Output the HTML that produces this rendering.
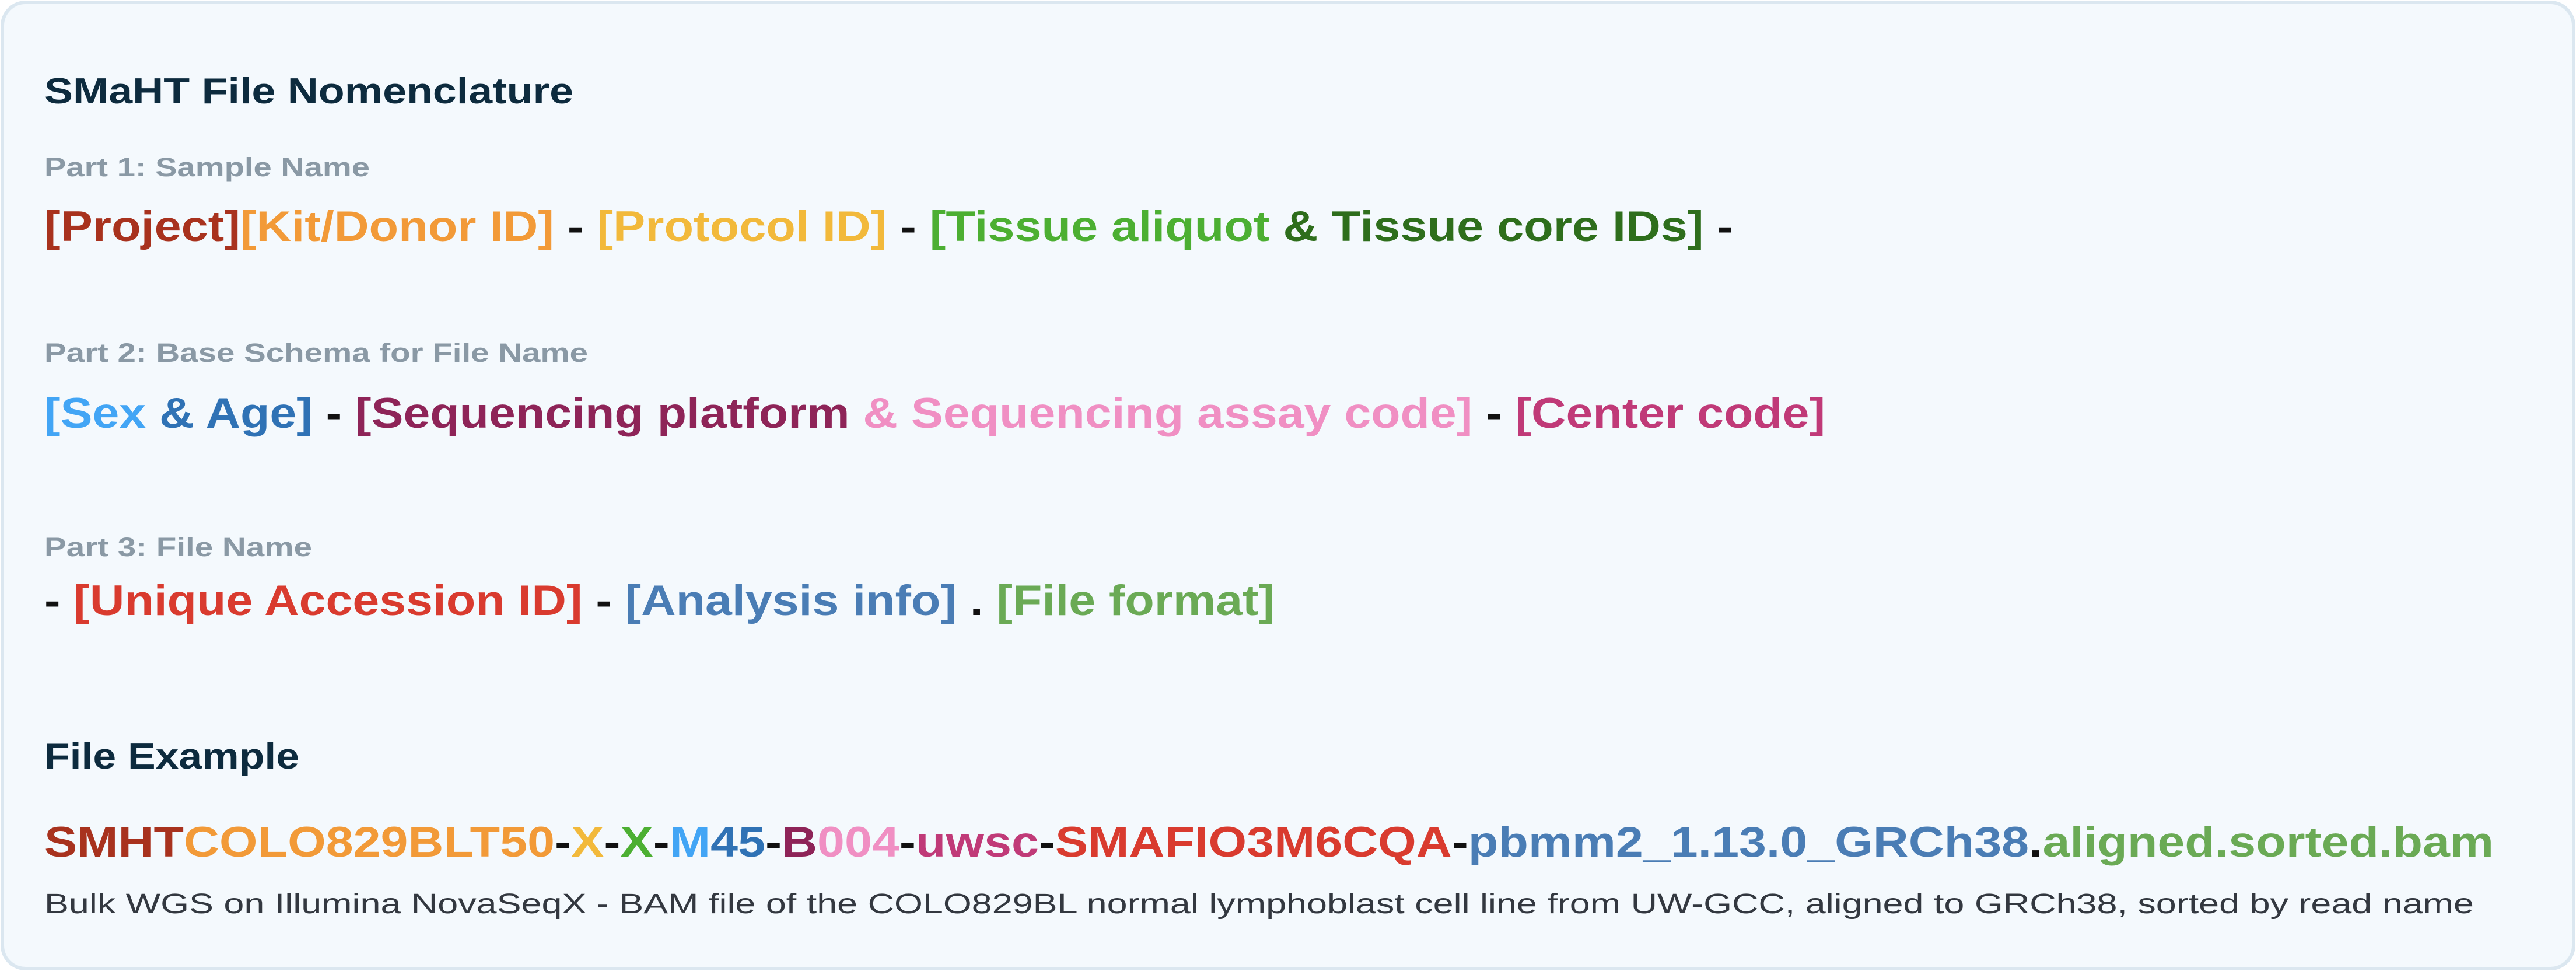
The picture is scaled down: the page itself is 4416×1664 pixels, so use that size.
<!DOCTYPE html>
<html><head><meta charset="utf-8"><style>
html,body{margin:0;padding:0;background:#fff;}
svg{display:block;}
text{font-family:"Liberation Sans",sans-serif;font-weight:bold;}
</style></head><body>
<svg width="4416" height="1664" viewBox="0 0 4416 1664" xmlns="http://www.w3.org/2000/svg">
<rect x="4" y="4" width="4408" height="1656" rx="40" ry="40" fill="#f4f9fd" stroke="#dbe7f0" stroke-width="6"/>
<text x="76" y="177" font-size="62" fill="#0d2b3e" textLength="907" lengthAdjust="spacingAndGlyphs">SMaHT File Nomenclature</text>
<text x="76" y="302" font-size="45" fill="#8a99a5" textLength="558" lengthAdjust="spacingAndGlyphs">Part 1: Sample Name</text>
<text x="76" y="413" font-size="73" textLength="2895" lengthAdjust="spacingAndGlyphs"><tspan fill="#a8321e">[Project]</tspan><tspan fill="#f29a38">[Kit/Donor ID]</tspan><tspan fill="#111"> - </tspan><tspan fill="#f2b93b">[Protocol ID]</tspan><tspan fill="#111"> - </tspan><tspan fill="#4caf32">[Tissue aliquot </tspan><tspan fill="#2e6e1c">&amp; Tissue core IDs]</tspan><tspan fill="#111"> -</tspan></text>
<text x="76" y="620" font-size="45" fill="#8a99a5" textLength="932" lengthAdjust="spacingAndGlyphs">Part 2: Base Schema for File Name</text>
<text x="76" y="733" font-size="73" textLength="3053" lengthAdjust="spacingAndGlyphs"><tspan fill="#42a5f5">[Sex </tspan><tspan fill="#2f72b5">&amp; Age]</tspan><tspan fill="#111"> - </tspan><tspan fill="#8e2458">[Sequencing platform </tspan><tspan fill="#f08fc3">&amp; Sequencing assay code]</tspan><tspan fill="#111"> - </tspan><tspan fill="#c03a78">[Center code]</tspan></text>
<text x="76" y="953" font-size="45" fill="#8a99a5" textLength="459" lengthAdjust="spacingAndGlyphs">Part 3: File Name</text>
<text x="76" y="1054" font-size="73" textLength="2109" lengthAdjust="spacingAndGlyphs"><tspan fill="#111">- </tspan><tspan fill="#d93b2f">[Unique Accession ID]</tspan><tspan fill="#111"> - </tspan><tspan fill="#4a7db5">[Analysis info]</tspan><tspan fill="#111"> . </tspan><tspan fill="#6aaa55">[File format]</tspan></text>
<text x="76" y="1317" font-size="62" fill="#0d2b3e" textLength="437" lengthAdjust="spacingAndGlyphs">File Example</text>
<text x="76" y="1468" font-size="73" textLength="4199" lengthAdjust="spacingAndGlyphs"><tspan fill="#a8321e">SMHT</tspan><tspan fill="#f29a38">COLO829BLT50</tspan><tspan fill="#111">-</tspan><tspan fill="#f2b93b">X</tspan><tspan fill="#111">-</tspan><tspan fill="#4caf32">X</tspan><tspan fill="#111">-</tspan><tspan fill="#42a5f5">M</tspan><tspan fill="#2f72b5">45</tspan><tspan fill="#111">-</tspan><tspan fill="#8e2458">B</tspan><tspan fill="#f08fc3">004</tspan><tspan fill="#111">-</tspan><tspan fill="#c03a78">uwsc</tspan><tspan fill="#111">-</tspan><tspan fill="#d93b2f">SMAFIO3M6CQA</tspan><tspan fill="#111">-</tspan><tspan fill="#4a7db5">pbmm2_1.13.0_GRCh38</tspan><tspan fill="#111">.</tspan><tspan fill="#6aaa55">aligned.sorted.bam</tspan></text>
<text x="76" y="1565" font-size="48" font-weight="normal" style="font-weight:normal" fill="#333840" textLength="4165" lengthAdjust="spacingAndGlyphs">Bulk WGS on Illumina NovaSeqX - BAM file of the COLO829BL normal lymphoblast cell line from UW-GCC, aligned to GRCh38, sorted by read name</text>
</svg>
</body></html>
